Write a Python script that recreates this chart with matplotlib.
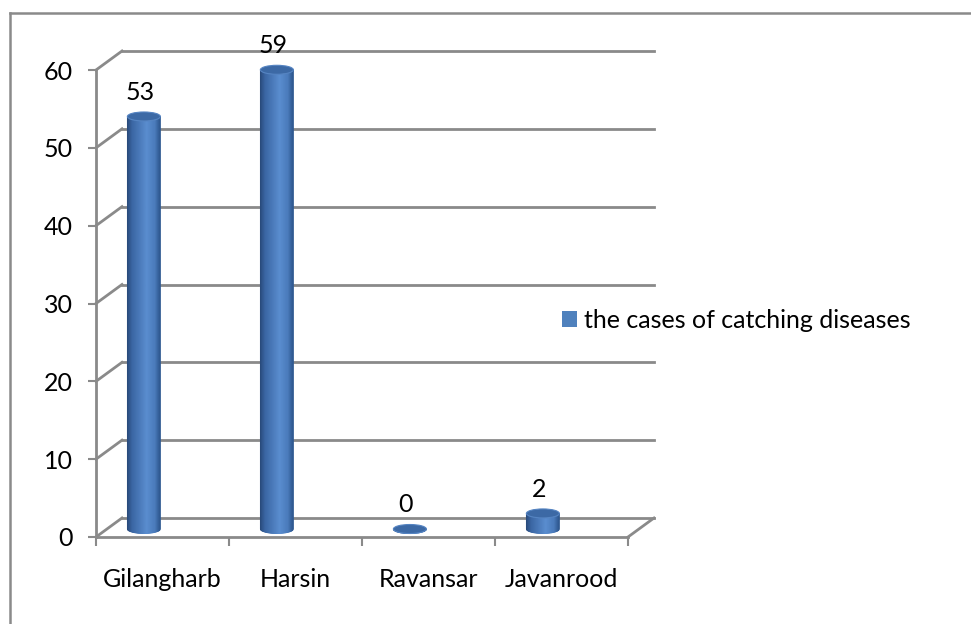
import matplotlib
matplotlib.use("Agg")
import matplotlib.pyplot as plt
import numpy as np
from matplotlib.patches import Polygon, Ellipse, Patch
from matplotlib.lines import Line2D
from matplotlib.colors import LinearSegmentedColormap
from matplotlib.transforms import offset_copy

# ---- data ----
categories = ["Gilangharb", "Harsin", "Ravansar", "Javanrood"]
values = [53, 59, 0, 2]
series_name = "the cases of catching diseases"
y_ticks = [0, 10, 20, 30, 40, 50, 60]

plt.rcParams['font.family'] = ['Lato', 'DejaVu Sans']
FS = 18
GRID = '#8a8a8a'

W, H = 971, 624
fig = plt.figure(figsize=(W / 100, H / 100), dpi=100)
# front plane axes
ax = fig.add_axes([96 / W, (H - 537) / H, (628 - 96) / W, (537 - 70) / H])
ax.set_xlim(0, len(categories))
ax.set_ylim(0, 60)
for s in ax.spines.values():
    s.set_visible(False)
ax.patch.set_visible(False)

# pixel -> data unit conversions
bb = ax.get_window_extent()
px_x = bb.width / len(categories)
px_y = bb.height / 60.0
dxb = 26 / px_x   # depth offset of back wall
dyb = 19 / px_y

# back wall gridlines + left wall diagonals
for t in y_ticks:
    ax.add_line(Line2D([dxb, len(categories) + dxb], [t + dyb, t + dyb], color=GRID,
                       lw=2, clip_on=False, zorder=1))
    ax.add_line(Line2D([0, dxb], [t, t + dyb], color=GRID, lw=2, clip_on=False, zorder=1))
# floor front edge and right diagonal, left axis
ax.add_line(Line2D([0, len(categories)], [0, 0], color=GRID, lw=2, clip_on=False, zorder=1))
ax.add_line(Line2D([len(categories), len(categories) + dxb], [0, dyb], color=GRID, lw=2,
                   clip_on=False, zorder=1))
ax.add_line(Line2D([0, 0], [0, 60], color=GRID, lw=2, clip_on=False, zorder=1))

# ticks
ax.set_yticks(y_ticks)
ax.set_yticklabels([str(t) for t in y_ticks], fontsize=FS)
ax.tick_params(axis='y', length=5.8, width=1.5, color=GRID, pad=11)
ax.set_xticks(range(len(categories) + 1))
ax.set_xticklabels([])
ax.tick_params(axis='x', which='major', length=6.5, width=1.5, color=GRID)
ax.set_xticks([i + 0.5 for i in range(len(categories))], minor=True)
ax.set_xticklabels(categories, minor=True, fontsize=FS)
ax.tick_params(axis='x', which='minor', length=0, pad=22)

# cylinders in the bar plane
bar_tr = offset_copy(ax.transData, fig=fig, x=0, y=8, units='dots')
cmap = LinearSegmentedColormap.from_list('cyl', [
    (0.0, '#284878'), (0.15, '#3a66a3'), (0.6, '#5a8dcf'), (0.85, '#4a7bbb'), (1.0, '#2e578e')])
half_w = 16.5 / px_x
half_h = 4.5 / px_y
N = 40
us = np.linspace(-1, 1, N + 1)
for i, v in enumerate(values):
    xc = i + 0.36
    for k in range(N):
        u0, u1 = us[k], us[k + 1]
        uu = np.linspace(u0, u1, 4)
        arc = -half_h * np.sqrt(np.clip(1 - uu ** 2, 0, 1))
        xs = xc + uu * half_w
        pts = np.concatenate([np.column_stack([xs, arc]),
                              np.column_stack([xs[::-1], (v + arc)[::-1]])])
        col = cmap((u0 + u1) / 4 + 0.5)
        ax.add_patch(Polygon(pts, closed=True, facecolor=col, edgecolor=col, lw=0.6,
                             transform=bar_tr, clip_on=False, zorder=3))
    ax.add_patch(Ellipse((xc, v), 2 * half_w, 2 * half_h, facecolor='#3c69a5',
                         edgecolor='#5584c2', lw=0.8, transform=bar_tr, clip_on=False, zorder=4))
    ax.annotate(str(v), xy=(xc, v), xycoords=bar_tr, xytext=(-4, 24),
                textcoords='offset pixels', ha='center', va='center', fontsize=FS,
                color='black', zorder=5, annotation_clip=False)

# legend
leg = fig.legend(handles=[Patch(facecolor='#4f81bd', edgecolor='none', label=series_name)],
                 loc='center left', bbox_to_anchor=(562 / W, (H - 320) / H), frameon=False,
                 fontsize=FS, handlelength=0.6, handleheight=0.6, handletextpad=0.27,
                 borderpad=0, borderaxespad=0)

# outer chart border (top and left visible)
fig.add_artist(Line2D([9.5 / W, 1.0], [(H - 12.5) / H, (H - 12.5) / H],
                      transform=fig.transFigure, color='#8a8a8a', lw=1.8))
fig.add_artist(Line2D([9.5 / W, 9.5 / W], [0, (H - 12.5) / H],
                      transform=fig.transFigure, color='#8a8a8a', lw=1.8))

fig.savefig('out.png', dpi=100)
